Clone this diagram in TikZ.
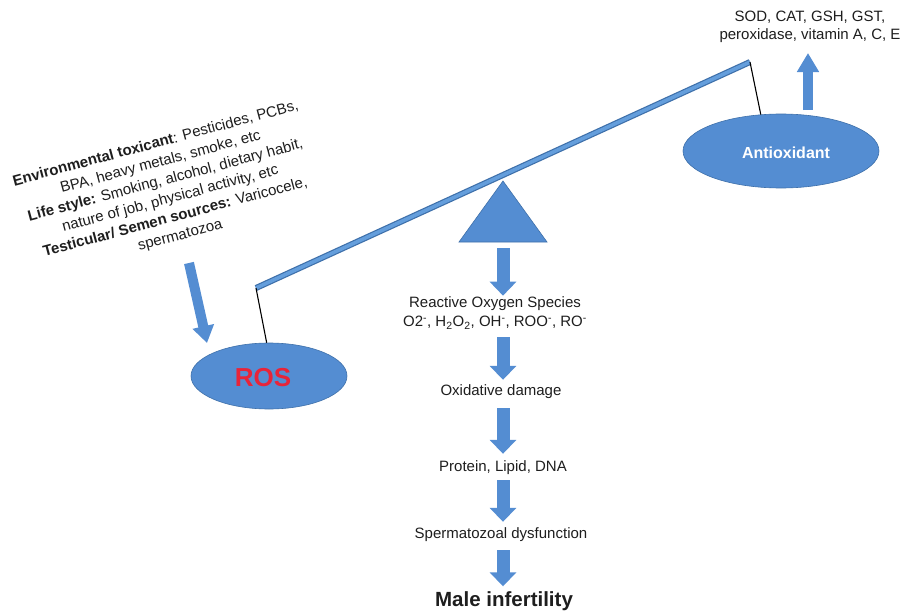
\documentclass[tikz,border=0pt]{standalone}
\usepackage{fontspec}
\setmainfont{Liberation Sans}
\usetikzlibrary{arrows.meta,shapes.geometric}
\definecolor{fillblue}{RGB}{84,141,210}
\definecolor{edgeblue}{RGB}{62,112,170}
\definecolor{beamlight}{RGB}{100,158,220}
\definecolor{rosred}{RGB}{232,36,58}
\definecolor{txtcol}{RGB}{30,30,30}
\begin{document}
\begin{tikzpicture}[x=1pt,y=-1pt,
  txt/.style={font=\fontsize{15}{17}\selectfont, align=center, inner sep=0pt, text=txtcol},
  ctxt/.style={txt, text height=11pt, text depth=3pt},
  ell/.style={ellipse, fill=fillblue, draw=edgeblue, line width=0.6pt, inner sep=0pt},
  barrow/.style={draw=fillblue, line width=13pt, -{Triangle[length=14pt,width=26pt]}},
  sarrow/.style={draw=fillblue, line width=10pt, -{Triangle[length=17pt,width=21pt]}},
  pivot/.style={line width=1.1pt, draw=black}
]
\useasboundingbox (0,0) rectangle (905,613);
\fill[white] (0,0) rectangle (905,613);

% beam
\coordinate (bl) at (256,288);
\coordinate (br) at (750,62);
\draw[edgeblue, line width=6pt] (bl) -- (br);
\draw[beamlight, line width=3.6pt] (bl) -- (br);

% ellipses
\node[ell, minimum width=156pt, minimum height=66pt] (ros) at (269,376) {};
\node[font=\fontsize{26}{28}\selectfont\bfseries, text=rosred, inner sep=0pt] (rostxt) at (263,378) {ROS};
\node[ell, minimum width=196pt, minimum height=74pt] (ao) at (781,151) {};
\node[font=\fontsize{16}{18}\selectfont\bfseries, text=white, inner sep=0pt] (aotxt) at (786,153) {Antioxidant};

\draw[pivot] (bl) -- (ros.94);
\draw[pivot] (br) -- (ao.119);

% fulcrum
\coordinate (apex) at (503,181);
\coordinate (tbl) at (459,242);
\coordinate (tbr) at (547,242);
\coordinate (tbase) at (503,242);
\filldraw[fill=fillblue, draw=edgeblue, line width=0.6pt] (apex) -- (tbl) -- (tbr) -- cycle;

% central chain
\node[txt, font=\fontsize{15}{19}\selectfont] (rosdef) at (495,313) {Reactive Oxygen Species\\O2\textsuperscript{-}, H\textsubscript{2}O\textsubscript{2}, OH\textsuperscript{-}, ROO\textsuperscript{-}, RO\textsuperscript{-}};
\node[ctxt] (oxid) at (501,391) {Oxidative damage};
\node[ctxt] (prot) at (503,467) {Protein, Lipid, DNA};
\node[ctxt] (sperm) at (501,534) {Spermatozoal dysfunction};
\node[txt, font=\fontsize{20.5}{22}\selectfont\bfseries, text height=15pt, text depth=4pt] (male) at (504,601) {Male infertility};

\draw[barrow, shorten <=6pt, shorten >=1pt] (tbase) -- (tbase |- rosdef.north);
\draw[barrow, shorten <=8pt, shorten >=4pt] (tbase |- rosdef.south) -- (tbase |- oxid.north);
\draw[barrow, shorten <=10pt, shorten >=6pt] (tbase |- oxid.south) -- (tbase |- prot.north);
\draw[barrow, shorten <=6pt, shorten >=5pt] (tbase |- prot.south) -- (tbase |- sperm.north);
\draw[barrow, shorten <=9pt, shorten >=5pt] (tbase |- sperm.south) -- (tbase |- male.north);

% sources block
\node[txt, font=\fontsize{15}{19}\selectfont, rotate=15] (src) at (168,190) {\textbf{Environmental toxicant}: Pesticides, PCBs,\\BPA, heavy metals, smoke, etc\\\textbf{Life style:} Smoking, alcohol, dietary habit,\\nature of job, physical activity, etc\\\textbf{Testicular/ Semen sources:} Varicocele,\\spermatozoa};
\coordinate (lstart) at (189,263);
\coordinate (lend) at (207,343);
\draw[sarrow] (lstart) -- (lend);

% antioxidant list
\node[txt, font=\fontsize{15}{18}\selectfont] (aolist) at (810,27) {SOD, CAT, GSH, GST,\\peroxidase, vitamin A, C, E};
\coordinate (ustart) at (808,110);
\coordinate (uend) at (808,53);
\draw[sarrow, -{Triangle[length=19pt,width=21pt]}] (ustart) -- (uend);
\end{tikzpicture}
\end{document}
